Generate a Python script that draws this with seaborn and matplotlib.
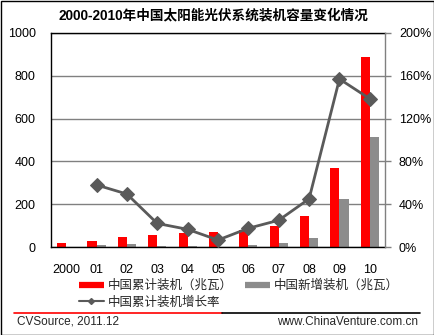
import numpy as np
import pandas as pd
import matplotlib
matplotlib.use("Agg")
import matplotlib.pyplot as plt
import seaborn as sns
from matplotlib.lines import Line2D
from matplotlib.patches import Rectangle

years = ["2000", "01", "02", "03", "04", "05", "06", "07", "08", "09", "10"]
cumulative = [20, 29, 48, 56, 67, 68, 79, 100, 146, 371, 889]
added = [0, 9, 16, 5, 5, 1, 10, 20, 44, 226, 514]
growth = [np.nan, 58, 49.5, 22, 16.5, 6.5, 17.5, 25, 45, 157, 138.5]

title = "2000-2010年中国太阳能光伏系统装机容量变化情况"
s_cum = "中国累计装机（兆瓦）"
s_add = "中国新增装机（兆瓦）"
s_growth = "中国累计装机增长率"
left_ticks = [0, 200, 400, 600, 800, 1000]
right_ticks = [0, 40, 80, 120, 160, 200]

sns.set_theme(style="white")
plt.rcParams['font.family'] = ['Liberation Sans', 'Noto Sans CJK SC', 'DejaVu Sans']

df = pd.DataFrame({
    "year": years * 2,
    "value": cumulative + added,
    "series": [s_cum] * len(years) + [s_add] * len(years),
})

fig = plt.figure(figsize=(4.35, 3.35), dpi=100)
ax = fig.add_axes([51/435, 1 - 247/335, (385-51)/435, (247-33)/335])

sns.barplot(data=df, x="year", y="value", hue="series", order=years,
            hue_order=[s_cum, s_add], palette=["#ff0000", "#8c8c8c"],
            width=0.6, saturation=1, ax=ax, legend=False, linewidth=0)

ax.set_ylim(0, 1000)
ax.set_xlim(-0.5, len(years) - 0.5)
ax.set_yticks(left_ticks)
ax.set_yticklabels([str(t) for t in left_ticks])
ax.set_xlabel("")
ax.set_ylabel("")
ax.grid(axis="y", color="#808080", linewidth=1)
ax.set_axisbelow(True)
ax.tick_params(axis="y", length=0, pad=11, labelsize=9, labelcolor="#000000")
ax.tick_params(axis="x", length=0, pad=12, labelsize=9, labelcolor="#000000")
for sp in ["left", "bottom", "top"]:
    ax.spines[sp].set_color("#000000")
    ax.spines[sp].set_linewidth(1)
ax.spines["right"].set_visible(False)

ax2 = ax.twinx()
sns.lineplot(x=np.arange(len(years)), y=growth, ax=ax2, color="#5a5a5a",
             linewidth=2, marker="D", markersize=7, markeredgecolor="#5a5a5a")
ax2.set_ylim(0, 200)
ax2.set_yticks(right_ticks)
ax2.set_yticklabels([f"{t}%" for t in right_ticks])
ax2.tick_params(axis="y", length=4, width=1, color="#808080", direction="out",
                pad=6, labelsize=9, labelcolor="#000000")
for sp in ["left", "bottom", "top"]:
    ax2.spines[sp].set_visible(False)
ax2.spines["right"].set_color("#808080")
ax2.spines["right"].set_linewidth(1)
ax2.set_ylabel("")

fig.text(0.49, 1 - 15/335, title, ha="center", va="center",
         fontsize=9.8, fontweight="bold", color="#000000")

handles = [
    Line2D([], [], color="#ff0000", linewidth=4.5, solid_capstyle="butt"),
    Line2D([], [], color="#5a5a5a", linewidth=1.5, marker="D", markersize=3),
    Line2D([], [], color="#8c8c8c", linewidth=4.5, solid_capstyle="butt"),
]
labels = [s_cum, s_growth, s_add]
fig.legend(handles, labels, ncol=2, loc="upper left",
           bbox_to_anchor=(70/435, 1 - 271/335), frameon=False,
           fontsize=9, handlelength=2.0, handletextpad=0.3,
           columnspacing=1.0, labelspacing=0.35, borderpad=0.2)

# separator line
fig.add_artist(Line2D([14/435, 222/435], [1 - 313/335] * 2, color="#ff0000", linewidth=1.2))
fig.add_artist(Line2D([222/435, 420/435], [1 - 313/335] * 2, color="#000000", linewidth=1.2))

fig.text(17/435, 1 - 322/335, "CVSource, 2011.12", ha="left", va="center", fontsize=8.5)
fig.text(418/435, 1 - 322/335, "www.ChinaVenture.com.cn", ha="right", va="center", fontsize=8.5)

fig.add_artist(Rectangle((0.5/435, 0.5/335), 1 - 1.5/435, 1 - 1.5/335, transform=fig.transFigure,
                         fill=False, edgecolor="#000000", linewidth=1))

fig.savefig("out.png", dpi=100)
